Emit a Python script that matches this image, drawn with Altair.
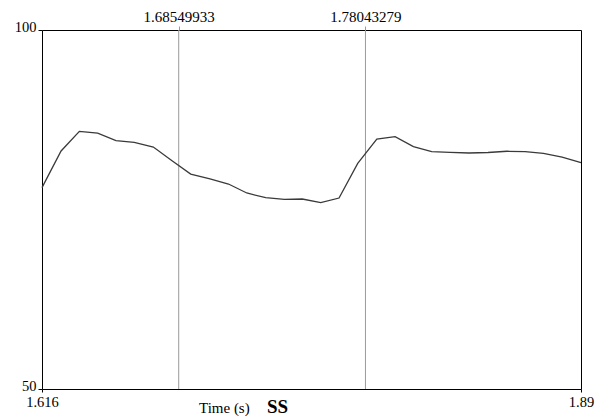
import altair as alt
import pandas as pd

times = [1.6160, 1.6257, 1.6350, 1.6443, 1.6536, 1.6629, 1.6726, 1.6821, 1.6916, 1.7014,
         1.7108, 1.7201, 1.7297, 1.7392, 1.7483, 1.7577, 1.7670, 1.7765, 1.7862, 1.7955,
         1.8048, 1.8141, 1.8234, 1.8331, 1.8427, 1.8524, 1.8616, 1.8709, 1.8804, 1.8900]
values = [78.04, 83.15, 85.89, 85.65, 84.58, 84.36, 83.70, 81.80, 79.94, 79.25,
          78.55, 77.30, 76.64, 76.42, 76.46, 75.95, 76.60, 81.43, 84.82, 85.14,
          83.75, 83.05, 82.97, 82.87, 82.94, 83.11, 83.05, 82.83, 82.31, 81.52]
marker_times = [1.68549933, 1.78043279]
x_ticks = [1.616, 1.89]
y_ticks = [50, 100]
x_title = ["Time (s)"]
tier_label = ["SS"]

FONT = "Liberation Serif"

df = pd.DataFrame({"t": times, "v": values})
mk = pd.DataFrame({"t": marker_times})

xscale = alt.Scale(domain=[1.616, 1.89], nice=False, zero=False)
yscale = alt.Scale(domain=[50, 100], nice=False, zero=False)

line = alt.Chart(df).mark_line(color="#3a3a3a", strokeWidth=1.3).encode(
    x=alt.X("t:Q", scale=xscale,
            axis=alt.Axis(values=x_ticks, format=".3~f", title=None, grid=False, domain=False,
                          tickSize=3, tickColor="black", labelFont=FONT, labelFontSize=14.5,
                          labelColor="black", labelPadding=3, labelFlush=False)),
    y=alt.Y("v:Q", scale=yscale,
            axis=alt.Axis(values=y_ticks, title=None, grid=False, domain=False,
                          tickSize=4, tickColor="black", labelFont=FONT, labelFontSize=14.5,
                          labelColor="black", labelPadding=2, labelBaseline="bottom",
                          labelOffset=4)),
)

rules = alt.Chart(mk).mark_rule(color="#9a9a9a", strokeWidth=1).encode(
    x=alt.X("t:Q", scale=xscale,
            axis=alt.Axis(orient="top", values=marker_times, format=".8f", title=None,
                          grid=False, domain=False, tickSize=4, tickColor="#9a9a9a",
                          labelFont=FONT, labelFontSize=15, labelColor="black",
                          labelPadding=2, labelFlush=False)),
)

title_txt = alt.Chart(pd.DataFrame({"s": x_title})).mark_text(
    font=FONT, fontSize=15, align="left", baseline="alphabetic", color="black"
).encode(text="s:N", x=alt.value(157), y=alt.value(383))

tier_txt = alt.Chart(pd.DataFrame({"s": tier_label})).mark_text(
    font=FONT, fontSize=19, fontWeight="bold", align="left", baseline="alphabetic", color="black"
).encode(text="s:N", x=alt.value(225), y=alt.value(383))

chart = alt.layer(rules, line, title_txt, tier_txt).resolve_axis(x="independent").properties(
    width=539, height=359,
    autosize=alt.AutoSizeParams(type="none"),
    padding={"left": 42, "top": 30, "right": 19, "bottom": 29},
    background="white",
).configure_view(stroke="black", strokeWidth=1)

chart.save("out.html", embed_options={"renderer": "svg", "actions": False})
